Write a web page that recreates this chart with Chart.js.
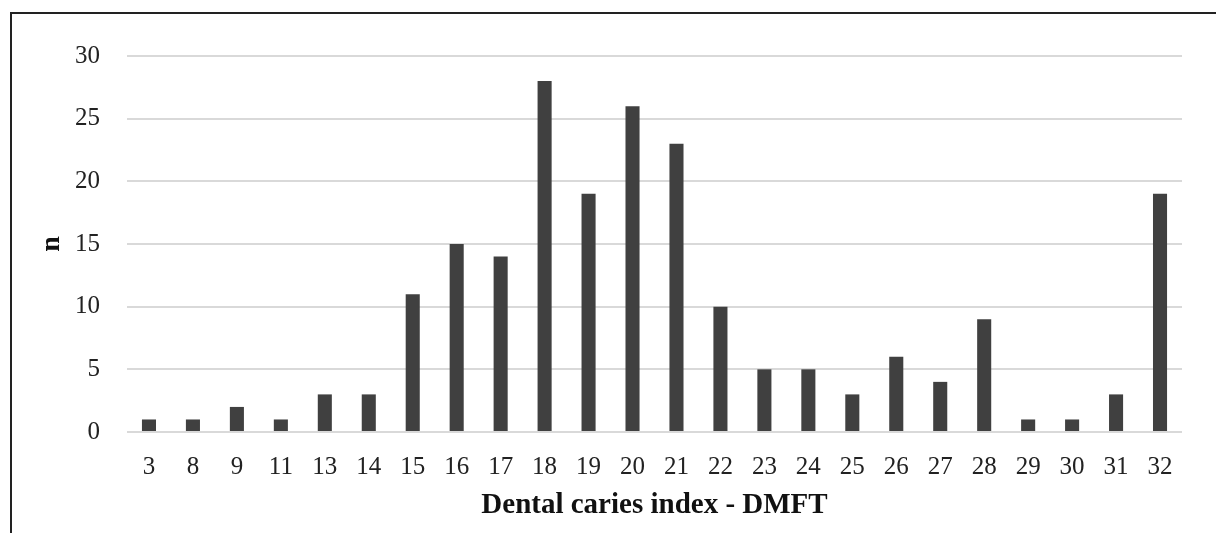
<!DOCTYPE html>
<html>
<head>
<meta charset="utf-8">
<script src="https://cdn.jsdelivr.net/npm/chart.js@4"></script>
<style>
html,body{margin:0;padding:0;background:#fff;}
#wrap{position:relative;width:1216px;height:533px;}
#frame{position:absolute;left:10px;top:12px;width:1206px;height:521px;border-left:2px solid #222;border-top:2px solid #222;box-sizing:border-box;pointer-events:none;}
canvas{position:absolute;left:0;top:0;}
</style>
</head>
<body>
<div id="wrap">
<canvas id="c" width="1216" height="533"></canvas>
<div id="frame"></div>
</div>
<script>
const categories = ['3','8','9','11','13','14','15','16','17','18','19','20','21','22','23','24','25','26','27','28','29','30','31','32'];
const counts = [1,1,2,1,3,3,11,15,14,28,19,26,23,10,5,5,3,6,4,9,1,1,3,19];
const yTicks = [0,5,10,15,20,25,30];

const fontFamily = '"Liberation Serif", "DejaVu Serif", serif';

new Chart(document.getElementById('c'), {
  type: 'bar',
  data: {
    labels: categories,
    datasets: [{
      data: counts,
      backgroundColor: '#404040',
      borderWidth: 0,
      barPercentage: 0.64,
      categoryPercentage: 0.5
    }]
  },
  options: {
    responsive: false,
    animation: false,
    layout: { padding: { top: 56, right: 34, left: 0, bottom: 0 } },
    plugins: { legend: { display: false }, tooltip: { enabled: false } },
    scales: {
      x: {
        grid: { display: false },
        border: { display: false },
        ticks: { color: '#222', font: { family: fontFamily, size: 25 }, padding: 12, maxRotation: 0, autoSkip: false },
        title: { display: true, text: 'Dental caries index - DMFT', color: '#111', font: { family: fontFamily, size: 29, weight: 'bold' }, padding: { top: 0, bottom: 10 } },
        afterFit: s => { s.height = 101; }
      },
      y: {
        min: 0, max: 30,
        afterBuildTicks: s => { s.ticks = yTicks.map(v => ({ value: v })); },
        grid: { color: '#d9d9d9', lineWidth: 2, drawTicks: false },
        border: { display: false },
        ticks: { color: '#222', font: { family: fontFamily, size: 25 }, padding: 27 },
        title: { display: true, text: 'n', color: '#111', font: { family: fontFamily, size: 28, weight: 'bold' }, padding: { top: 35, bottom: 0 } },
        afterFit: s => { s.width = 127; }
      }
    }
  }
});
</script>
</body>
</html>
